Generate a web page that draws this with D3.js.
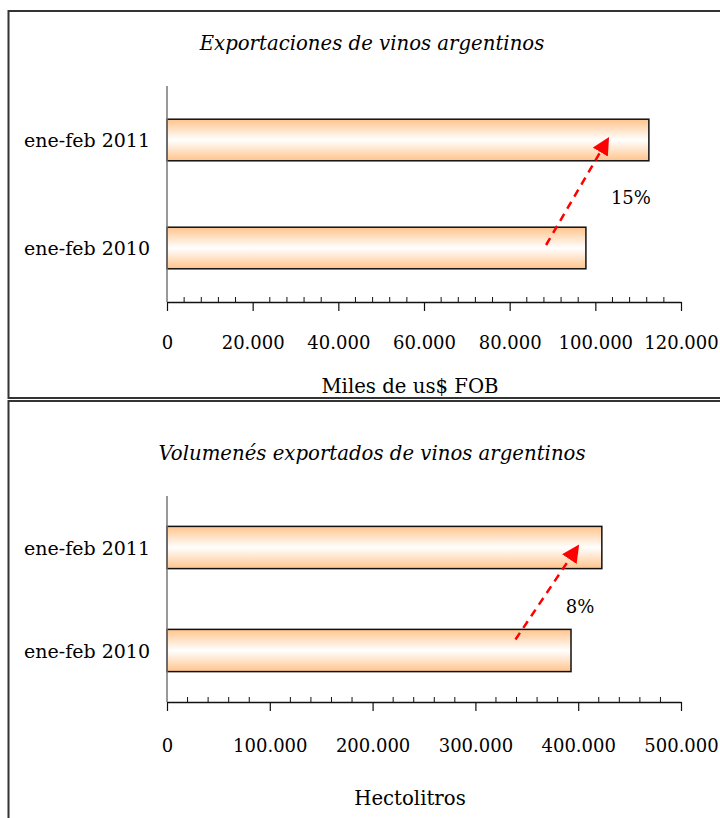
<!DOCTYPE html>
<html>
<head>
<meta charset="utf-8">
<script src="https://cdn.jsdelivr.net/npm/d3@7"></script>
<style>
  body { margin: 0; background: #fff; }
  svg { display: block; }
</style>
</head>
<body>
<div class="chart-container"></div>
<script>
const width = 720;
const height = 818;

// categories, bottom to top as drawn
const categories = ["ene-feb 2010", "ene-feb 2011"];

// export values (miles de us$ FOB) and volumes (hectolitros)
const valueFob = [97800, 112500];
const volumeHl = [393000, 423000];

const fobTicks = [0, 20000, 40000, 60000, 80000, 100000, 120000];
const hlTicks = [0, 100000, 200000, 300000, 400000, 500000];

// arrow annotation: start/end along the value axis, and the growth label
const fobArrow = [88500, 102800];
const hlArrow = [339000, 399000];
const fobGrowth = "15%";
const hlGrowth = "8%";

const fontFamily = "'DejaVu Serif', serif";

const locale = d3.formatLocale({ decimal: ",", thousands: ".", grouping: [3], currency: ["$", ""] });
const fmt = locale.format(",d");

const svg = d3.select(".chart-container").append("svg")
  .attr("width", width)
  .attr("height", height);

const defs = svg.append("defs");

// peach -> white -> peach vertical gradient used by the bars
const grad = defs.append("linearGradient")
  .attr("id", "barGrad")
  .attr("x1", 0).attr("y1", 0).attr("x2", 0).attr("y2", 1);
grad.append("stop").attr("offset", "0%").attr("stop-color", "#FFC48C");
grad.append("stop").attr("offset", "50%").attr("stop-color", "#FFFFFF");
grad.append("stop").attr("offset", "100%").attr("stop-color", "#FFC48C");

defs.append("marker")
  .attr("id", "arrowHead")
  .attr("viewBox", "0 0 10 10")
  .attr("refX", 8).attr("refY", 5)
  .attr("markerWidth", 7).attr("markerHeight", 7)
  .attr("markerUnits", "strokeWidth")
  .attr("orient", "auto")
  .append("path")
  .attr("d", "M0,0 L10,5 L0,10 Z")
  .attr("fill", "#FF0000");

// Draws one boxed panel: title, bars, value axis with minor ticks, arrow annotation
function drawPanel(cfg)
{
  const g = svg.append("g");

  // panel frame
  g.append("rect")
    .attr("x", 8.5)
    .attr("y", cfg.boxTop)
    .attr("width", 730)
    .attr("height", cfg.boxHeight)
    .attr("fill", "none")
    .attr("stroke", "#333")
    .attr("stroke-width", 2);

  g.append("text")
    .attr("x", 372)
    .attr("y", cfg.titleY)
    .attr("text-anchor", "middle")
    .attr("dominant-baseline", "central")
    .style("font-family", fontFamily)
    .style("font-style", "italic")
    .style("font-size", "19.7px")
    .text(cfg.title);

  const x = d3.scaleLinear()
    .domain([0, cfg.max])
    .range([167, 681]);

  const y = d3.scaleBand()
    .domain(categories.slice().reverse())
    .range([cfg.plotTop, cfg.plotBottom]);

  const barH = y.bandwidth() * cfg.barFrac;
  const centerY = c => y(c) + y.bandwidth() / 2;

  // bars
  g.selectAll("rect.bar")
    .data(categories.map((c, i) => ({ cat: c, value: cfg.values[i] })))
    .join("rect")
    .attr("class", "bar")
    .attr("x", x(0))
    .attr("y", d => centerY(d.cat) - barH / 2)
    .attr("width", d => x(d.value) - x(0))
    .attr("height", barH)
    .attr("fill", "url(#barGrad)")
    .attr("stroke", "#111")
    .attr("stroke-width", 1.5);

  // category labels
  g.selectAll("text.cat")
    .data(categories)
    .join("text")
    .attr("class", "cat")
    .attr("x", 150)
    .attr("y", d => centerY(d))
    .attr("text-anchor", "end")
    .attr("dominant-baseline", "central")
    .style("font-family", fontFamily)
    .style("font-size", "19px")
    .text(d => d);

  // vertical category axis line
  g.append("line")
    .attr("x1", x(0)).attr("x2", x(0))
    .attr("y1", cfg.plotTop).attr("y2", cfg.plotBottom)
    .attr("stroke", "#777")
    .attr("stroke-width", 1.5);

  // minor ticks (above the axis line)
  const minor = d3.range(0, cfg.max + 1, cfg.minorStep).filter(v => cfg.ticks.indexOf(v) < 0);
  g.selectAll("line.minor")
    .data(minor)
    .join("line")
    .attr("class", "minor")
    .attr("x1", d => x(d)).attr("x2", d => x(d))
    .attr("y1", cfg.plotBottom - 5).attr("y2", cfg.plotBottom)
    .attr("stroke", "#111")
    .attr("stroke-width", 1);

  // value axis with major ticks below the line
  const axis = g.append("g")
    .attr("transform", `translate(0,${cfg.plotBottom})`)
    .call(d3.axisBottom(x).tickValues(cfg.ticks).tickSize(9).tickFormat(fmt).tickSizeOuter(0));
  axis.select(".domain").attr("stroke", "#111").attr("stroke-width", 1.3);
  axis.selectAll(".tick line").attr("stroke", "#111").attr("stroke-width", 1.2);
  axis.selectAll(".tick text")
    .attr("y", cfg.tickLabelY - cfg.plotBottom)
    .attr("dy", null)
    .attr("dominant-baseline", "central")
    .attr("fill", "#000")
    .style("font-family", fontFamily)
    .style("font-size", "18px");

  g.append("text")
    .attr("x", 410)
    .attr("y", cfg.axisTitleY)
    .attr("text-anchor", "middle")
    .attr("dominant-baseline", "central")
    .style("font-family", fontFamily)
    .style("font-size", "19.7px")
    .text(cfg.axisTitle);

  // growth arrow from the lower bar to the upper bar
  g.append("line")
    .attr("x1", x(cfg.arrow[0]))
    .attr("y1", centerY(categories[0]) + cfg.arrowTailDy)
    .attr("x2", x(cfg.arrow[1]))
    .attr("y2", centerY(categories[1]))
    .attr("stroke", "#FF0000")
    .attr("stroke-width", 2.5)
    .attr("stroke-dasharray", "8,6")
    .attr("marker-end", "url(#arrowHead)");

  g.append("text")
    .attr("x", x(cfg.labelAt))
    .attr("y", cfg.labelY)
    .attr("text-anchor", "middle")
    .attr("dominant-baseline", "central")
    .style("font-family", fontFamily)
    .style("font-size", "18px")
    .text(cfg.growth);
}

drawPanel({
  boxTop: 11, boxHeight: 387,
  title: "Exportaciones de vinos argentinos", titleY: 43,
  values: valueFob, max: 120000, ticks: fobTicks, minorStep: 4000,
  plotTop: 86, plotBottom: 302, barFrac: 0.385, tickLabelY: 342,
  axisTitle: "Miles de us$ FOB", axisTitleY: 386,
  arrow: fobArrow, arrowTailDy: -3, growth: fobGrowth, labelAt: 108300, labelY: 197
});

drawPanel({
  boxTop: 401, boxHeight: 440,
  title: "Volumenés exportados de vinos argentinos", titleY: 453,
  values: volumeHl, max: 500000, ticks: hlTicks, minorStep: 20000,
  plotTop: 496, plotBottom: 702, barFrac: 0.41, tickLabelY: 745,
  axisTitle: "Hectolitros", axisTitleY: 798,
  arrow: hlArrow, arrowTailDy: -11, growth: hlGrowth, labelAt: 401800, labelY: 606
});
</script>
</body>
</html>
